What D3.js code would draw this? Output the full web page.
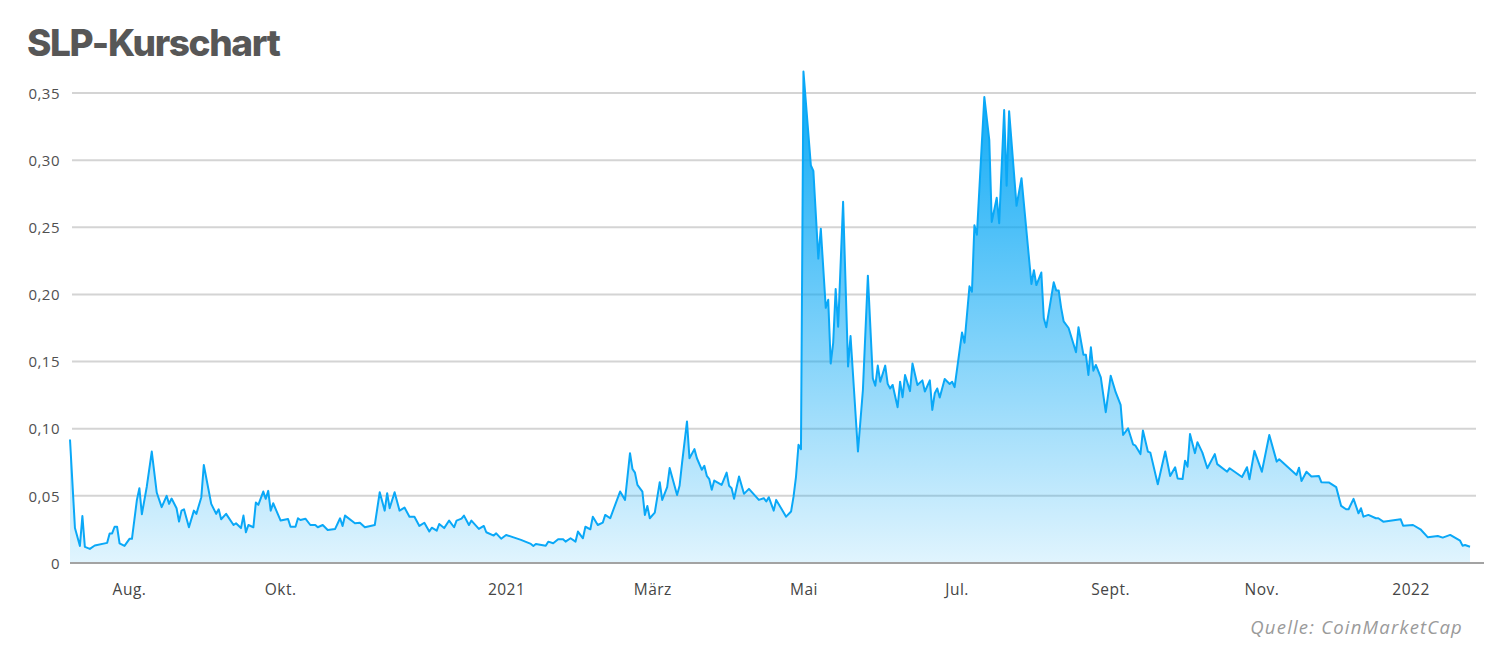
<!DOCTYPE html>
<html>
<head>
<meta charset="utf-8">
<script src="https://cdn.jsdelivr.net/npm/d3@7"></script>
<style>
  html, body { margin: 0; padding: 0; background: #ffffff; }
  svg { display: block; }
</style>
</head>
<body>
<svg id="chart" width="1500" height="652"></svg>
<script>
// ---- Data (SLP price in USD) ----
const titleText = "SLP-Kurschart";
const sourceText = "Quelle: CoinMarketCap";
const startDate = "2020-07-09";
const endDate = "2022-01-25";
// days since startDate
const dayIndex = [
  0,2,4,5,6,8,10,15,16,17,18,19,20,22,24,25,27,28,29,31,33,35,37,39,40,41,43,44,45,46,48,50,51,53,54,57,59,60,61,63,
  66,67,69,70,71,72,74,75,76,78,79,80,81,82,85,88,89,91,92,93,95,97,99,100,102,104,107,109,110,111,115,117,119,123,
  125,127,128,129,131,133,135,137,139,141,143,145,146,148,149,151,153,155,156,158,159,161,162,165,167,168,171,172,174,
  176,182,186,187,188,192,193,195,197,199,200,202,204,205,207,208,210,211,213,215,216,218,222,224,226,227,228,229,231,
  232,233,234,236,238,239,241,242,245,246,247,249,250,252,253,255,256,257,258,259,260,263,265,266,267,268,270,272,274,
  278,280,281,282,283,284,285,289,291,292,293,294,295,296,299,300,302,303,305,306,307,308,309,310,312,314,315,318,320,
  322,324,325,326,327,329,330,331,332,334,335,336,337,339,340,342,344,345,347,348,349,350,351,353,355,356,357,360,361,
  363,364,365,366,369,371,372,374,375,377,378,379,382,384,388,389,390,392,393,394,397,398,399,400,401,403,406,407,409,
  410,411,412,413,414,416,418,420,422,424,425,427,429,430,432,433,435,436,439,442,444,446,447,449,450,451,452,454,455,
  457,459,462,463,467,468,473,475,476,478,481,484,487,488,495,496,497,499,501,504,505,508,511,513,515,516,518,520,521,
  522,524,527,528,530,537,538,542,545,548,552,554,557,561,562,563,565
];
const prices = [
  0.092,0.026,0.0127,0.035,0.012,0.0105,0.013,0.015,0.022,0.022,0.027,0.027,0.0147,0.0127,0.018,0.018,0.047,0.0557,0.0363,0.057,
  0.083,0.0525,0.0416,0.050,0.044,0.048,0.0408,0.0308,0.039,0.040,0.0266,0.039,0.0366,0.049,0.073,0.044,0.0366,0.040,0.0326,0.0366,
  0.0283,0.0296,0.026,0.0353,0.0229,0.0283,0.0266,0.045,0.0433,0.0532,0.0478,0.0537,0.039,0.0445,0.0316,0.0328,0.027,0.027,0.0333,0.032,
  0.033,0.0283,0.0283,0.0266,0.0283,0.0246,0.0254,0.0333,0.0276,0.0353,0.0296,0.030,0.0266,0.0283,
  0.0527,0.039,0.052,0.0408,0.0527,0.039,0.0413,0.0345,0.0345,0.0276,0.030,0.0234,0.0263,0.0241,0.029,0.026,0.0316,0.0266,0.0316,0.033,
  0.0353,0.0283,0.0316,0.0254,0.0276,0.0229,0.0204,0.0221,0.0181,
  0.0209,0.0172,0.0142,0.0127,0.0142,0.0129,0.0159,0.0147,0.0177,0.0177,0.0159,0.0184,0.0159,0.0234,0.0184,0.027,0.0251,0.0345,0.0283,0.030,
  0.0358,0.0333,0.0532,0.047,0.0818,0.070,0.0673,0.0582,0.0532,
  0.0358,0.0425,0.0333,0.0375,0.0602,0.047,0.0565,0.0707,0.0507,0.0575,0.0744,0.1054,0.078,0.0848,0.078,0.0694,0.0724,0.0649,0.0624,0.0545,
  0.0614,0.0582,0.0673,0.0575,0.0557,0.0478,0.0644,0.0515,0.0552,
  0.047,0.0483,0.0458,0.049,0.044,0.039,0.047,0.0345,0.0383,0.0494,0.0644,0.088,0.0848,0.366,0.296,0.292,0.2267,0.249,0.190,0.196,
  0.1485,0.164,0.204,0.176,0.269,0.1463,0.169,0.083,0.129,
  0.214,0.1375,0.132,0.147,0.135,0.147,0.1334,0.130,0.1326,0.116,0.135,0.1235,0.140,0.128,0.1485,0.1326,0.136,0.1277,0.136,0.114,
  0.1264,0.130,0.1232,0.137,0.1333,0.135,0.131,0.1717,0.164,
  0.206,0.202,0.2515,0.2445,0.347,0.315,0.254,0.272,0.253,0.3374,0.281,0.3365,0.266,0.2866,0.2078,0.218,0.207,0.2163,0.1823,0.1756,
  0.209,0.203,0.203,0.190,0.180,0.175,0.157,0.1756,0.155,
  0.155,0.140,0.1606,0.1432,0.1475,0.1383,0.1123,0.1395,0.1272,0.1178,0.0953,0.1003,0.0884,0.0874,0.0811,0.0986,0.083,0.0822,0.0586,0.083,
  0.0648,0.0713,0.063,0.0625,0.0762,0.0717,0.096,0.0818,0.090,
  0.0822,0.0706,0.0811,0.0736,0.068,0.0706,0.064,0.0713,0.0624,0.0835,0.068,0.0953,0.0755,0.0772,0.0656,0.071,0.061,0.068,0.0644,0.0648,
  0.0602,0.060,0.0565,0.0425,0.040,0.040,0.0478,0.037,0.0408,
  0.0345,0.0358,0.0333,0.0333,0.0308,0.0326,0.0278,0.0283,0.0251,0.0191,0.0201,0.0189,0.0209,0.0166,0.0129,0.0134,0.0121
];
const yTicks = [0, 0.05, 0.10, 0.15, 0.20, 0.25, 0.30, 0.35];
const xTickDates = ["2020-08-01","2020-10-01","2021-01-01","2021-03-01","2021-05-01","2021-07-01","2021-09-01","2021-11-01","2022-01-01"];
const xTickLabels = ["Aug.","Okt.","2021","März","Mai","Jul.","Sept.","Nov.","2022"];

// ---- Build ----
const parse = d3.utcParse("%Y-%m-%d");
const t0 = parse(startDate);
const data = dayIndex.map((d, i) => ({ date: d3.utcDay.offset(t0, d), value: prices[i] }));

const svg = d3.select("#chart");
const plot = { left: 70, right: 1470, top: 93, bottom: 563, gridRight: 1476 };

const x = d3.scaleUtc().domain([t0, parse(endDate)]).range([plot.left, plot.right]);
const y = d3.scaleLinear().domain([0, 0.35]).range([plot.bottom, plot.top]);

const fmt = v => v === 0 ? "0" : d3.format(".2f")(v).replace(".", ",");
const labelFont = "'Open Sans', Lato, 'Noto Sans', sans-serif";

// gradient
const defs = svg.append("defs");
const grad = defs.append("linearGradient")
  .attr("id", "areaGrad")
  .attr("gradientUnits", "userSpaceOnUse")
  .attr("x1", 0).attr("x2", 0)
  .attr("y1", y(0.37)).attr("y2", y(0));
grad.append("stop").attr("offset", "0%").attr("stop-color", "#00a5f5").attr("stop-opacity", 0.98);
grad.append("stop").attr("offset", "100%").attr("stop-color", "#00a5f5").attr("stop-opacity", 0.12);

// title
svg.append("text")
  .attr("x", 27).attr("y", 56)
  .attr("font-family", "Inter, 'Noto Sans', sans-serif")
  .attr("font-weight", 800)
  .attr("font-size", 37)
  .attr("letter-spacing", -1.4)
  .attr("fill", "#575757")
  .text(titleText);

// grid + y labels
const yAxis = d3.axisLeft(y).tickValues(yTicks).tickFormat(fmt).tickSize(0).tickPadding(0);
const gy = svg.append("g").attr("transform", `translate(${plot.left - 10},0)`).call(yAxis);
gy.select(".domain").remove();
gy.selectAll("text")
  .attr("font-family", labelFont)
  .attr("font-size", 15)
  .attr("letter-spacing", 0.5)
  .attr("fill", "#505050")
  .attr("dy", "0.35em");

svg.append("g").selectAll("line")
  .data(yTicks.filter(d => d > 0))
  .join("line")
  .attr("x1", plot.left + 2).attr("x2", plot.gridRight)
  .attr("y1", d => y(d)).attr("y2", d => y(d))
  .attr("stroke", "#d4d4d4").attr("stroke-width", 2);

// area + line
const area = d3.area().x(d => x(d.date)).y0(y(0)).y1(d => y(d.value));
const line = d3.line().x(d => x(d.date)).y(d => y(d.value));

svg.append("path").datum(data).attr("d", area).attr("fill", "url(#areaGrad)");

// baseline
svg.append("line")
  .attr("x1", plot.left).attr("x2", plot.gridRight + 8)
  .attr("y1", y(0)).attr("y2", y(0))
  .attr("stroke", "#a3a3a3").attr("stroke-width", 2);

svg.append("path").datum(data).attr("d", line)
  .attr("fill", "none").attr("stroke", "#0aa8f7").attr("stroke-width", 2)
  .attr("stroke-linejoin", "round");

// x axis labels
const xAxis = d3.axisBottom(x)
  .tickValues(xTickDates.map(parse))
  .tickFormat((d, i) => xTickLabels[i])
  .tickSize(0).tickPadding(0);
const gx = svg.append("g").attr("transform", `translate(0,${plot.bottom + 21})`).call(xAxis);
gx.select(".domain").remove();
gx.selectAll("text")
  .attr("font-family", labelFont)
  .attr("font-size", 15.5)
  .attr("letter-spacing", 0.5)
  .attr("fill", "#454545")
  .attr("dy", "0.71em")
  .attr("dx", (d, i) => xTickLabels[i].endsWith(".") ? 2 : 0);

// source
svg.append("text")
  .attr("x", 1463).attr("y", 634)
  .attr("text-anchor", "end")
  .attr("font-family", labelFont)
  .attr("font-style", "italic")
  .attr("font-size", 18.5)
  .attr("letter-spacing", 1.2)
  .attr("fill", "#9a9a9a")
  .text(sourceText);
</script>
</body>
</html>
